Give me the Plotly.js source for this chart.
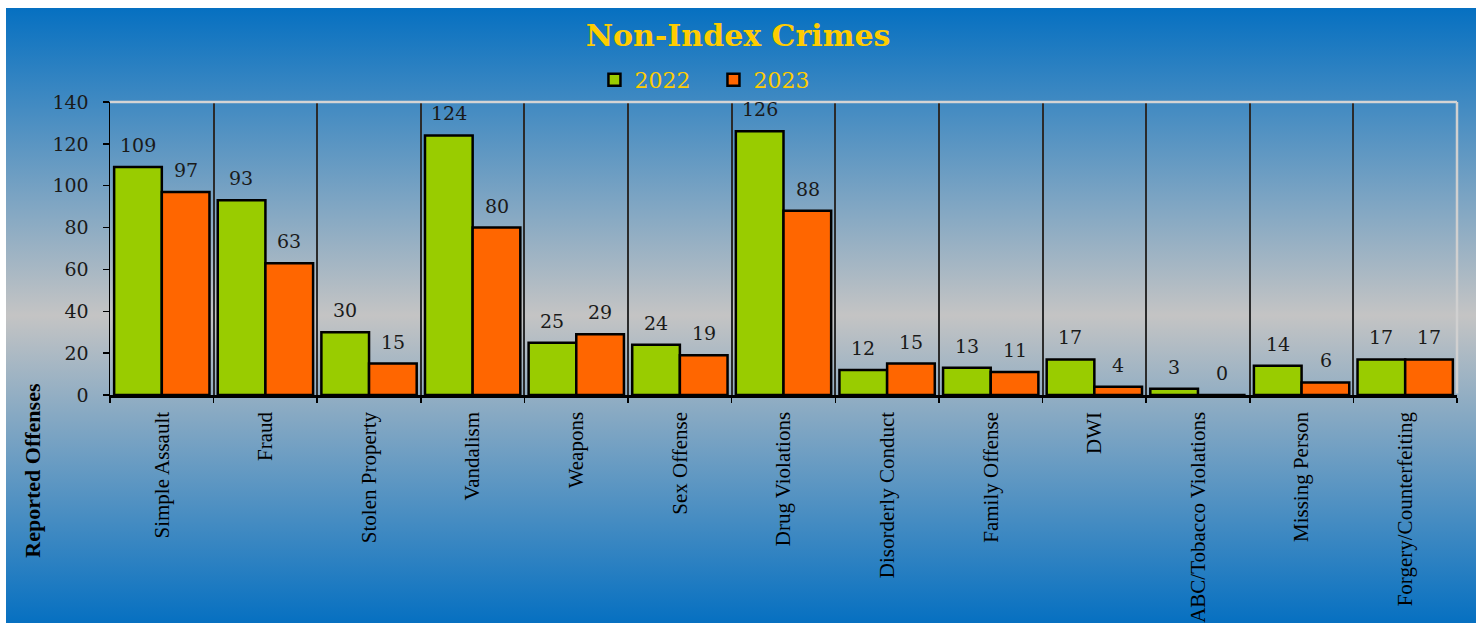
<!DOCTYPE html>
<html>
<head>
<meta charset="utf-8">
<script src="https://cdn.plot.ly/plotly-3.0.1.min.js"></script>
<style>
  html, body { margin: 0; padding: 0; background: #ffffff; width: 1476px; height: 623px; overflow: hidden; }
  #bg { position: absolute; left: 6px; top: 8px; width: 1470px; height: 615px;
        background: linear-gradient(to bottom, #0670c1 0%, #c4c4c4 50%, #0670c1 100%); }
  #chart { position: absolute; left: 0; top: 0; width: 1476px; height: 623px; }
</style>
</head>
<body>
<div id="bg"></div>
<div id="chart"></div>
<script>
const categories = ["Simple Assault", "Fraud", "Stolen Property", "Vandalism", "Weapons", "Sex Offense",
  "Drug Violations", "Disorderly Conduct", "Family Offense", "DWI", "ABC/Tobacco Violations",
  "Missing Person", "Forgery/Counterfeiting"];
const values2022 = [109, 93, 30, 124, 25, 24, 126, 12, 13, 17, 3, 14, 17];
const values2023 = [97, 63, 15, 80, 29, 19, 88, 15, 11, 4, 0, 6, 17];
const seriesNames = ["2022", "2023"];
const yTicks = [0, 20, 40, 60, 80, 100, 120, 140];

const numFont = {family: "DejaVu Serif", size: 19, color: "#1a1a1a"};

const traces = [
  {type: "bar", name: seriesNames[0], x: categories, y: values2022,
   marker: {color: "#99cc00", line: {color: "#000000", width: 2.5}}, hoverinfo: "y"},
  {type: "bar", name: seriesNames[1], x: categories, y: values2023,
   marker: {color: "#ff6600", line: {color: "#000000", width: 2.5}}, hoverinfo: "y"}
];

const annotations = [];
categories.forEach((c, i) => {
  annotations.push({x: c, y: values2022[i], xref: "x", yref: "y", text: String(values2022[i]),
    showarrow: false, xshift: -24, yshift: 9, yanchor: "bottom", font: numFont});
  annotations.push({x: c, y: values2023[i], xref: "x", yref: "y", text: String(values2023[i]),
    showarrow: false, xshift: 24, yshift: 9, yanchor: "bottom", font: numFont});
});
annotations.push({text: "Reported Offenses", xref: "paper", yref: "paper", x: -0.0572, y: -0.255,
  textangle: -90, showarrow: false, xanchor: "center", yanchor: "middle",
  font: {family: "Liberation Serif", size: 22, color: "#000000", weight: "bold"}});

const layout = {
  width: 1476, height: 623,
  paper_bgcolor: "rgba(0,0,0,0)", plot_bgcolor: "rgba(0,0,0,0)",
  margin: {l: 110, r: 19, t: 102, b: 228},
  title: {text: "<b>Non-Index Crimes</b>", x: 0.5, xref: "container", xanchor: "center",
          y: 1 - 35/623, yref: "container", yanchor: "middle",
          font: {family: "DejaVu Serif", size: 30, color: "#ffcc00"}},
  barmode: "group", bargap: 0.08, bargroupgap: 0,
  showlegend: true,
  legend: {orientation: "h", x: 0.448, xanchor: "center", y: 1.075, yanchor: "middle",
           font: {family: "DejaVu Serif", size: 22, color: "#ffcc00"},
           bgcolor: "rgba(0,0,0,0)", itemwidth: 30, entrywidth: 74},
  xaxis: {type: "category", tickangle: -90, tickson: "boundaries",
          ticks: "outside", ticklen: 5, tickcolor: "#000000", tickwidth: 1.5,
          showline: true, linecolor: "#000000", linewidth: 2.5,
          showgrid: true, gridcolor: "#2b2b2b", gridwidth: 2,
          tickfont: {family: "Liberation Serif", size: 21, color: "#000000"},
          ticklabelstandoff: 6, fixedrange: true},
  yaxis: {range: [0, 140], tickvals: yTicks, ticks: "outside", ticklen: 6, tickcolor: "#000000",
          tickwidth: 1.5, showline: true, linecolor: "#000000", linewidth: 1.5,
          showgrid: false, zeroline: false,
          tickfont: numFont, ticklabelstandoff: 10, fixedrange: true},
  shapes: [
    {type: "line", xref: "paper", yref: "paper", x0: 0, x1: 1, y0: 1, y1: 1,
     line: {color: "#d4d4d4", width: 2.5}, layer: "above"},
    {type: "line", xref: "paper", yref: "paper", x0: 1, x1: 1, y0: 0.005, y1: 1,
     line: {color: "#d0d0d0", width: 2.5}, layer: "above"}
  ],
  annotations: annotations
};

Plotly.newPlot("chart", traces, layout, {displayModeBar: false, staticPlot: true});
</script>
</body>
</html>
